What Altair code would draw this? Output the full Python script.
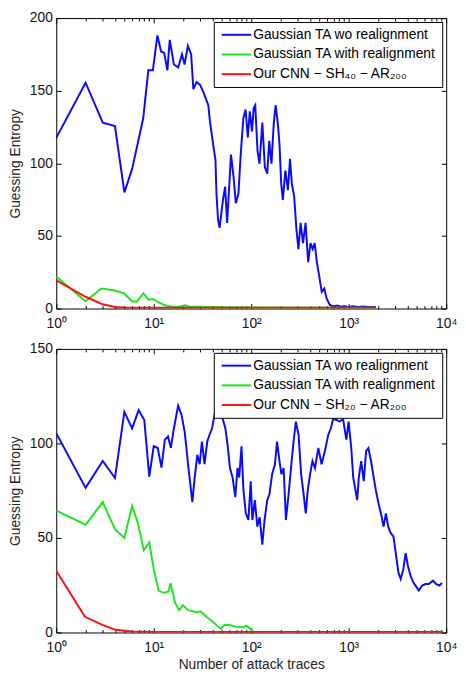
import altair as alt
import pandas as pd

FONT = "Liberation Sans"
BLUE, GREEN, RED = "#0a0aff", "#1ee61e", "#ff1010"

# ---------------- data ----------------
top_names = ["Gaussian TA wo realignment", "Gaussian TA with realignment",
             "Our CNN − SH₄₀ − AR₂₀₀"]
bot_names = ["Gaussian TA wo realignment", "Gaussian TA with realignment",
             "Our CNN − SH₂₀ − AR₂₀₀"]

top_blue = [(1, 117.5), (2, 155.5), (3, 128), (4, 125.6), (5, 80), (6, 96), (7.8, 131),
            (8.8, 164), (9.8, 164), (10.9, 188), (11.9, 177), (12.8, 176), (13.8, 164),
            (14.6, 185), (16.1, 168), (17.8, 166), (19.5, 175), (20.7, 168), (21.5, 174),
            (22.4, 181), (24.2, 175), (25.5, 151), (27.5, 156), (29.9, 154), (32.3, 149),
            (36.3, 140), (37.7, 129), (40.7, 113), (43, 102), (44, 79), (45.7, 61),
            (47.4, 55.6), (51.3, 74.8), (54, 83.9), (56.6, 59), (59.7, 86), (62, 106),
            (65.9, 90.6), (69.5, 72.5), (73.9, 79), (78, 106), (83, 131), (87.5, 137),
            (92.3, 117.8), (96.7, 135.8), (101.9, 122), (106, 138), (110, 140), (116, 108.7),
            (121.6, 99.7), (130, 128), (138, 97.4), (146, 92.9), (153, 115.5), (161.4, 99.7),
            (170, 126.8), (178, 140), (188, 126.8), (195, 113), (203, 86), (211, 74.8),
            (224, 95), (238, 81.6), (250, 103), (261, 86), (276, 77), (291, 54.4),
            (305, 40.9), (321, 59), (340, 45), (361, 59), (384, 31.9), (405, 45),
            (427, 40.9), (448, 45), (471, 31.9), (497, 22.8), (529, 11.5), (562, 13.8),
            (593, 7), (640, 2.5), (700, 1.5), (760, 2), (830, 1.2), (900, 1.8), (1000, 1),
            (1100, 1.5), (1250, 1), (1400, 1.4), (1600, 1), (1900, 1)]
top_green = [(1, 22), (2, 5), (2.9, 13.8), (4, 12.4), (4.95, 10.4), (6, 5), (6.7, 4.7),
             (7.85, 10.4), (8.8, 6.1), (9.9, 6.6), (11, 4.5), (13, 2.3), (15, 1.4), (18, 1.2),
             (21, 2.3), (23, 1.4), (30, 1.2), (50, 0.9), (100, 0.7), (300, 0.6), (1000, 0.5),
             (1900, 0.5)]
top_red = [(1, 19.4), (2, 8.1), (3, 2.9), (4, 1.1), (5, 0.7), (10, 0.5), (100, 0.5),
           (1000, 0.5), (1900, 0.5)]

bot_blue = [(1, 105.4), (2, 76.5), (3, 90.7), (4, 81.7), (5, 116.7), (6, 108), (7, 117.6),
            (8, 112.4), (9, 82.4), (10, 98.5), (11, 97.6), (12, 87.2), (13, 102), (14, 103.7),
            (15, 97.6), (15.9, 106.3), (17.8, 120), (19.3, 115), (20.8, 106), (22.5, 89),
            (24.9, 69), (26.3, 82), (28, 94), (29.6, 89), (31.2, 101), (33.2, 89), (35.4, 101),
            (37.4, 104.6), (39.7, 108), (42, 115), (44.4, 122), (47.2, 115), (51, 113),
            (54.3, 108), (57.3, 99), (60.5, 87), (64.4, 82), (68.6, 71.6), (72.4, 87),
            (75.3, 82), (79.5, 98.5), (83.3, 75), (88, 63), (93.6, 59.5), (98.8, 80),
            (102.8, 59.5), (109, 70), (115.5, 56), (122, 61), (130, 46.5), (137, 59.5),
            (146, 70), (154, 73.4), (164, 83.8), (175, 89), (184, 101), (195, 90.7),
            (204, 83.8), (215, 87), (227, 59.5), (242, 73.4), (258, 89), (272, 101),
            (287, 111.5), (306, 104.6), (325, 83.8), (344, 73.4), (363, 63), (380, 75),
            (402, 83.8), (425, 90.7), (451, 87), (488, 97.6), (527, 89), (570, 96),
            (617, 104.6), (656, 108), (693, 113), (748, 112.4), (809, 111.5), (875, 113),
            (946, 102), (998, 111.5), (1062, 97.6), (1113, 82), (1175, 75), (1222, 70),
            (1270, 82), (1342, 90.7), (1428, 80), (1508, 96), (1592, 97.6), (1694, 90.7),
            (1803, 82), (1904, 75), (2027, 68), (2142, 63), (2280, 56), (2406, 63),
            (2541, 56), (2703, 52.5), (2876, 50.8), (3039, 42), (3236, 31.7), (3414, 28.3),
            (3636, 33.5), (3838, 42), (4052, 35.2), (4313, 30), (4591, 26.5), (4849, 24.8),
            (5240, 22.2), (5670, 24.8), (6120, 25.6), (6620, 25.6), (7330, 27.4),
            (7920, 25.6), (8560, 24.8), (9040, 26.2)]
bot_green = [(1, 64.5), (2, 57), (3, 69), (4, 54.6), (5, 50), (6, 67), (6.9, 57.7),
             (7.9, 43.5), (9, 47.7), (10, 33.5), (11.2, 22.2), (12.6, 21), (14.1, 21.6),
             (14.9, 26), (16.5, 16), (18.2, 11.8), (20, 14.4), (22.5, 11.8), (25.3, 11.2),
             (27.8, 10.6), (30, 11.2), (32, 10), (34.5, 8.3), (40.4, 5.7), (45, 3.5),
             (49, 1.9), (53, 4), (59.6, 4), (69.6, 3.1), (81, 2.8), (90, 3.5), (95, 2.5),
             (100, 1.4), (105, 0.6)]
bot_red = [(1, 32.6), (1.97, 8.3), (2.97, 4), (4.06, 1.4), (5, 0.9), (6, 0.5), (10, 0.3),
           (100, 0.3), (1000, 0.3), (9200, 0.3)]

X_MAJOR = [1, 10, 100, 1000, 10000]
X_MINOR = [2, 3, 4, 5, 6, 7, 8, 9, 20, 30, 40, 50, 60, 70, 80, 90,
           200, 300, 400, 500, 600, 700, 800, 900,
           2000, 3000, 4000, 5000, 6000, 7000, 8000, 9000]
TOP_Y = [0, 50, 100, 150, 200]
BOT_Y = [0, 50, 100, 150]

LABEL_EXPR = ("datum.value == 1 ? '10⁰' : datum.value == 10 ? '10¹' : "
              "datum.value == 100 ? '10²' : datum.value == 1000 ? '10³' : '10⁴'")

MAJ, MIN = 5, 3  # inward tick lengths


def frame(series, names):
    rows = []
    for pts, name in zip(series, names):
        for x, v in pts:
            rows.append({"x": x, "v": v, "s": name})
    return pd.DataFrame(rows)


def panel(df, names, ymax, yvals, h, xtitle):
    xs = alt.Scale(type="log", domain=[1, 10000], nice=False)
    ys = alt.Scale(domain=[0, ymax], nice=False, zero=True)
    lines = alt.Chart(df).mark_line(strokeWidth=2, clip=True).encode(
        x=alt.X("x:Q", scale=xs, axis=alt.Axis(
            values=X_MAJOR, labelExpr=LABEL_EXPR, tickSize=MAJ, offset=-MAJ,
            labelFlush=False, domain=False, grid=False, labelPadding=8,
            title=xtitle, titlePadding=4)),
        y=alt.Y("v:Q", scale=ys, axis=alt.Axis(
            values=yvals, tickSize=MAJ, offset=-MAJ, domain=False, grid=False,
            labelPadding=4, title="Guessing Entropy", titlePadding=7)),
        color=alt.Color("s:N", sort=names,
                        scale=alt.Scale(domain=names, range=[BLUE, GREEN, RED]),
                        legend=alt.Legend(
                            title=None, orient="top-right", offset=4,
                            strokeColor="black", fillColor="white", padding=6,
                            rowPadding=6, symbolType="M-1,0H5", symbolSize=100,
                            symbolStrokeWidth=2, labelFontSize=14, labelFont=FONT,
                            labelColor="black", labelOffset=20, labelLimit=400,
                            cornerRadius=0)),
    )
    top_major = alt.Chart(df).mark_line(opacity=0, clip=True).encode(
        x=alt.X("x:Q", scale=xs, axis=alt.Axis(
            orient="top", values=X_MAJOR, labels=False, tickSize=MAJ, offset=-MAJ,
            domain=False, grid=False, title=None)),
        y=alt.Y("v:Q", scale=ys, axis=alt.Axis(
            orient="right", values=yvals, labels=False, tickSize=MAJ, offset=-MAJ,
            domain=False, grid=False, title=None)),
    )
    bot_minor = alt.Chart(df).mark_line(opacity=0, clip=True).encode(
        x=alt.X("x:Q", scale=xs, axis=alt.Axis(
            orient="bottom", values=X_MINOR, labels=False, tickSize=MIN, offset=-MIN,
            domain=False, grid=False, title=None)),
        y=alt.Y("v:Q", scale=ys, axis=None),
    )
    top_minor = alt.Chart(df).mark_line(opacity=0, clip=True).encode(
        x=alt.X("x:Q", scale=xs, axis=alt.Axis(
            orient="top", values=X_MINOR, labels=False, tickSize=MIN, offset=-MIN,
            domain=False, grid=False, title=None)),
        y=alt.Y("v:Q", scale=ys, axis=None),
    )
    return alt.layer(lines, top_major, bot_minor, top_minor).resolve_axis(
        x="independent", y="independent").properties(width=396, height=h)


top = panel(frame([top_blue, top_green, top_red], top_names), top_names, 200, TOP_Y, 295, None)
bot = panel(frame([bot_blue, bot_green, bot_red], bot_names), bot_names, 150, BOT_Y, 288,
            "Number of attack traces")

chart = alt.vconcat(top, bot, spacing=10).resolve_scale(color="independent").resolve_legend(
    color="independent").properties(
    padding={"left": 0, "top": -3, "right": 0, "bottom": 0}, background="white"
).configure_view(stroke="black", strokeWidth=1).configure_axis(
    labelFont=FONT, labelFontSize=14, labelColor="#111", titleFont=FONT, titleFontSize=14,
    titleFontWeight="normal", titleColor="#222", tickColor="black", tickWidth=1
)

chart.save("out.html", embed_options={"renderer": "svg", "actions": False})
